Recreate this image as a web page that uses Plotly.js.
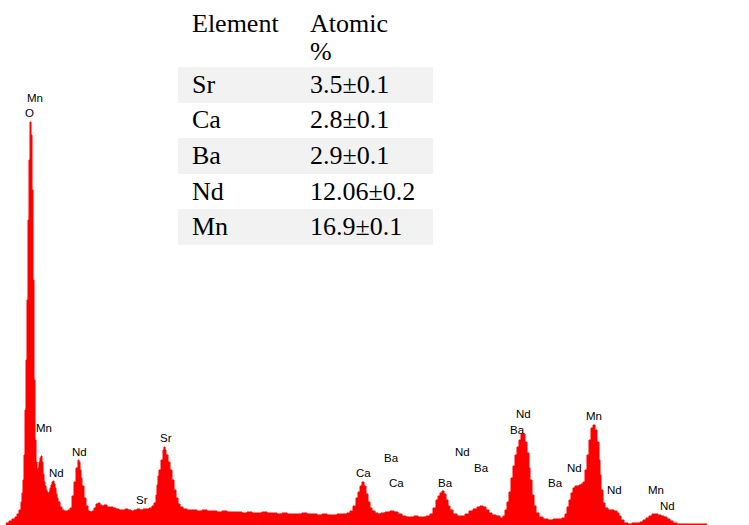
<!DOCTYPE html>
<html>
<head>
<meta charset="utf-8">
<script src="https://cdn.plot.ly/plotly-3.0.1.min.js"></script>
<style>html,body{margin:0;padding:0;background:#fff;}#chart{width:749px;height:525px;}</style>
</head>
<body>
<div id="chart"></div>
<script>
// EDS spectrum: energy (keV) and counts
const energy = [0.26,0.29,0.32,0.35,0.37,0.39,0.41,0.42,0.43,0.44,0.45,0.46,0.47,0.48,0.49,0.50,0.51,0.52,0.53,0.54,0.55,0.56,0.57,0.58,0.59,0.60,0.61,0.62,0.63,0.64,0.65,0.66,0.67,0.68,0.69,0.70,0.71,0.72,0.73,0.74,0.75,0.76,0.77,0.78,0.80,0.82,0.84,0.86,0.88,0.90,0.92,0.94,0.96,0.98,0.99,1.00,1.01,1.02,1.04,1.06,1.08,1.10,1.12,1.14,1.16,1.18,1.20,1.22,1.24,1.27,1.30,1.33,1.36,1.39,1.42,1.45,1.48,1.51,1.54,1.57,1.60,1.63,1.66,1.69,1.72,1.74,1.76,1.77,1.78,1.79,1.81,1.83,1.84,1.85,1.86,1.88,1.90,1.92,1.94,1.96,1.98,2.00,2.03,2.07,2.12,2.17,2.22,2.27,2.32,2.37,2.42,2.47,2.52,2.57,2.62,2.67,2.72,2.77,2.82,2.87,2.92,2.97,3.02,3.07,3.12,3.17,3.22,3.27,3.32,3.37,3.42,3.47,3.52,3.57,3.62,3.67,3.70,3.73,3.76,3.78,3.80,3.82,3.84,3.86,3.88,3.90,3.92,3.95,3.98,4.01,4.05,4.10,4.14,4.18,4.22,4.26,4.30,4.34,4.38,4.42,4.46,4.50,4.53,4.56,4.58,4.60,4.62,4.64,4.66,4.68,4.70,4.73,4.77,4.81,4.85,4.89,4.93,4.97,5.00,5.03,5.06,5.09,5.12,5.16,5.20,5.23,5.25,5.27,5.29,5.31,5.33,5.35,5.37,5.39,5.41,5.43,5.45,5.47,5.49,5.50,5.52,5.54,5.56,5.59,5.63,5.68,5.73,5.78,5.82,5.85,5.87,5.89,5.91,5.93,5.95,5.97,5.99,6.01,6.03,6.05,6.07,6.09,6.11,6.13,6.15,6.17,6.19,6.20,6.21,6.23,6.25,6.28,6.31,6.34,6.37,6.39,6.41,6.44,6.48,6.52,6.56,6.60,6.63,6.66,6.69,6.72,6.75,6.78,6.81,6.84,6.87,6.90,6.93,6.97,7.10,7.20,7.27];
const counts = [20,40,60,80,110,150,230,320,450,700,1150,1650,2250,3050,3650,4030,3900,3350,2450,1450,850,630,550,570,630,670,690,630,510,430,390,350,330,310,330,370,400,430,440,410,370,310,270,230,180,150,140,140,150,170,290,430,570,650,630,550,470,390,270,190,140,130,140,170,210,220,200,190,200,180,180,170,160,150,150,160,150,140,150,160,150,160,160,170,190,220,300,400,490,550,650,750,780,750,700,630,550,450,350,270,210,180,160,150,150,140,150,140,140,130,140,130,130,130,120,130,120,120,130,120,120,110,120,110,110,110,120,110,110,100,110,100,100,110,110,120,140,190,270,330,390,430,390,310,230,170,140,120,110,120,130,140,130,110,90,80,80,90,80,80,90,110,170,250,290,320,340,310,250,190,150,110,90,90,110,140,160,180,190,180,150,120,100,90,70,90,150,230,330,470,590,700,780,850,910,910,830,720,570,450,300,190,120,80,60,50,60,60,70,110,180,250,320,370,390,390,400,410,430,550,700,850,970,1000,950,830,650,500,350,220,170,150,150,140,120,90,50,20,10,20,20,30,50,70,90,110,110,100,90,80,60,40,20,10,10,10,10];

// Peak labels: text, energy (keV), label height (counts)
const peakLabels = ['Mn','O','Mn','Nd','Nd','Sr','Sr','Ca','Ba','Ca','Ba','Nd','Ba','Nd','Ba','Ba','Nd','Mn','Nd','Mn','Nd'];
const peakLabelE = [0.55,0.49,0.64,0.76,0.99,1.62,1.86,3.83,4.11,4.16,4.65,4.82,5.01,5.43,5.37,5.75,5.94,6.14,6.34,6.76,6.87];
const peakLabelY = [4270,4120,970,520,730,250,870,520,670,420,420,730,570,1110,950,420,570,1090,350,350,190];

// Composition table
const tableHeader = ['Element', 'Atomic', '%'];
const elements = ['Sr', 'Ca', 'Ba', 'Nd', 'Mn'];
const atomicPct = ['3.5±0.1', '2.8±0.1', '2.9±0.1', '12.06±0.2', '16.9±0.1'];

const W = 749, H = 525;
const px = p => p / W;
const py = p => 1 - p / H;

const annotations = [];
for (let i = 0; i < peakLabels.length; i++) {
  annotations.push({
    x: peakLabelE[i], y: peakLabelY[i], xref: 'x', yref: 'y',
    text: peakLabels[i], showarrow: false,
    xanchor: 'center', yanchor: 'middle',
    font: {family: 'Liberation Sans, Arial, sans-serif', size: 11.5, color: '#000'}
  });
}
const serif = {family: 'Liberation Serif, Times New Roman, serif', size: 26, color: '#000'};
const col1 = 190, col2 = 308;
annotations.push({x: px(col1), y: py(23), xref: 'paper', yref: 'paper', text: tableHeader[0], showarrow: false, xanchor: 'left', yanchor: 'middle', font: serif});
annotations.push({x: px(col2), y: py(23), xref: 'paper', yref: 'paper', text: tableHeader[1], showarrow: false, xanchor: 'left', yanchor: 'middle', font: serif});
annotations.push({x: px(col2), y: py(51), xref: 'paper', yref: 'paper', text: tableHeader[2], showarrow: false, xanchor: 'left', yanchor: 'middle', font: serif});

const shapes = [];
const rowTop = 67, rowPitch = 35.5;
for (let i = 0; i < elements.length; i++) {
  const top = rowTop + i * rowPitch;
  if (i % 2 === 0) {
    shapes.push({type: 'rect', xref: 'paper', yref: 'paper', x0: px(178), x1: px(433), y0: py(top + 36), y1: py(top), fillcolor: '#f2f2f2', line: {width: 0}, layer: 'below'});
  }
  const cy = top + 17.5;
  annotations.push({x: px(col1), y: py(cy), xref: 'paper', yref: 'paper', text: elements[i], showarrow: false, xanchor: 'left', yanchor: 'middle', font: serif});
  annotations.push({x: px(col2), y: py(cy), xref: 'paper', yref: 'paper', text: atomicPct[i], showarrow: false, xanchor: 'left', yanchor: 'middle', font: serif});
}

const trace = {
  x: energy, y: counts, type: 'scatter', mode: 'lines',
  line: {color: '#ff0000', width: 1, shape: 'hv'},
  fill: 'tozeroy', fillcolor: '#ff0000', hoverinfo: 'skip'
};

const layout = {
  width: W, height: H,
  margin: {l: 0, r: 0, t: 0, b: 0, pad: 0},
  paper_bgcolor: '#ffffff', plot_bgcolor: 'rgba(0,0,0,0)',
  showlegend: false,
  xaxis: {range: [0.2, 7.69], visible: false, fixedrange: true},
  yaxis: {range: [0, 5250], visible: false, fixedrange: true},
  annotations: annotations,
  shapes: shapes
};

Plotly.newPlot('chart', [trace], layout, {staticPlot: true, displayModeBar: false});
</script>
</body>
</html>
